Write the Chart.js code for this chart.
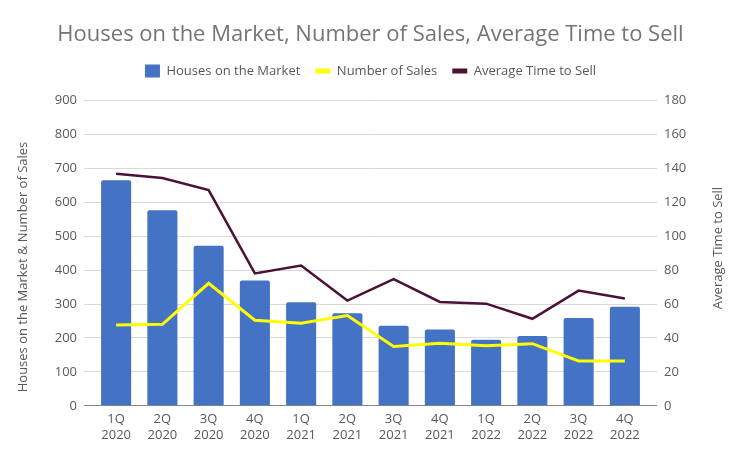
<!DOCTYPE html>
<html>
<head>
<meta charset="utf-8">
<script src="https://cdn.jsdelivr.net/npm/chart.js@4/dist/chart.umd.min.js"></script>
<style>
  html, body { margin: 0; padding: 0; background: #ffffff; }
  #wrap { width: 743px; height: 461px; position: relative; }
</style>
</head>
<body>
<div id="wrap"><canvas id="c"></canvas></div>
<script>
const categories = [['1Q','2020'],['2Q','2020'],['3Q','2020'],['4Q','2020'],['1Q','2021'],['2Q','2021'],['3Q','2021'],['4Q','2021'],['1Q','2022'],['2Q','2022'],['3Q','2022'],['4Q','2022']];
const housesOnMarket = [665, 576, 472, 369, 305, 273, 236, 225, 195, 206, 259, 292];
const numberOfSales  = [238, 240, 361, 252, 243, 266, 175, 184, 177, 183, 132, 132];
const avgTimeToSell  = [136.8, 134.2, 127.1, 78, 82.7, 62, 74.6, 61.2, 60.2, 51.3, 67.9, 63.2];
const leftTicks = [0, 100, 200, 300, 400, 500, 600, 700, 800, 900];
const rightTicks = [0, 20, 40, 60, 80, 100, 120, 140, 160, 180];

const FONT = '"Open Sans", "Noto Sans", sans-serif';
const TXT = '#595959';

const axisTitles = {
  id: 'axisTitles',
  beforeLayout(chart) {
    const lg = chart.legend;
    if (lg && !lg._patched) {
      const f = lg.fit.bind(lg);
      lg.fit = function () { f(); this.height += 13; };
      lg._patched = true;
    }
  },
  afterDraw(chart) {
    const ctx = chart.ctx;
    ctx.save();
    ctx.fillStyle = TXT;
    ctx.font = '13px ' + FONT;
    ctx.textAlign = 'center';
    ctx.textBaseline = 'middle';
    ctx.translate(23, 267);
    ctx.rotate(-Math.PI / 2);
    ctx.fillText('Houses on the Market & Number of Sales', 0, 0);
    ctx.restore();
    ctx.save();
    ctx.fillStyle = TXT;
    ctx.font = '13px ' + FONT;
    ctx.textAlign = 'center';
    ctx.textBaseline = 'middle';
    ctx.translate(718, 248);
    ctx.rotate(-Math.PI / 2);
    ctx.fillText('Average Time to Sell', 0, 0);
    ctx.restore();
  }
};

const gridColor = (c) => (c.tick && c.tick.value === 0) ? '#868686' : '#d9d9d9';

new Chart(document.getElementById('c'), {
  data: {
    labels: categories,
    datasets: [
      { type: 'bar', label: 'Houses on the Market', data: housesOnMarket, backgroundColor: '#4472C4', borderRadius: 2, borderSkipped: 'bottom', yAxisID: 'y', order: 3, barPercentage: 0.65, categoryPercentage: 1 },
      { type: 'line', label: 'Number of Sales', data: numberOfSales, borderColor: '#FFFF00', backgroundColor: '#FFFF00', borderWidth: 3, pointRadius: 0, tension: 0, yAxisID: 'y', order: 1 },
      { type: 'line', label: 'Average Time to Sell', data: avgTimeToSell, borderColor: '#4B1236', backgroundColor: '#4B1236', borderWidth: 2.5, pointRadius: 0, tension: 0, yAxisID: 'y1', order: 2 }
    ]
  },
  options: {
    responsive: true,
    maintainAspectRatio: false,
    animation: false,
    layout: { padding: { left: 15, right: 17, top: 0, bottom: 12 } },
    plugins: {
      title: {
        display: true,
        text: 'Houses on the Market, Number of Sales, Average Time to Sell',
        color: '#757575',
        font: { family: FONT, size: 22, weight: 'normal' },
        padding: { top: 22, bottom: 1 }
      },
      legend: {
        display: true,
        position: 'top',
        labels: {
          color: TXT,
          font: { family: FONT, size: 13 },
          usePointStyle: true,
          pointStyleWidth: 15,
          boxHeight: 14,
          padding: 15,
          generateLabels(chart) {
            return chart.data.datasets.map((ds, i) => ({
              text: ds.label,
              fillStyle: ds.type === 'bar' ? ds.backgroundColor : ds.borderColor,
              strokeStyle: ds.type === 'bar' ? ds.backgroundColor : ds.borderColor,
              lineWidth: ds.type === 'bar' ? 0 : 5,
              pointStyle: ds.type === 'bar' ? 'rect' : 'line',
              fontColor: TXT,
              hidden: false,
              datasetIndex: i
            }));
          }
        }
      },
      tooltip: { enabled: false }
    },
    scales: {
      x: {
        grid: { display: false, drawTicks: false },
        border: { display: false },
        ticks: { color: TXT, font: { family: FONT, size: 13 }, padding: 6, maxRotation: 0, autoSkip: false }
      },
      y: {
        position: 'left',
        min: 0, max: 900,
        afterBuildTicks(s) { s.ticks = leftTicks.map(v => ({ value: v })); },
        afterFit(s) { s.width = 78; },
        grid: { color: gridColor, tickColor: gridColor, tickLength: 9, lineWidth: 1 },
        border: { display: false },
        ticks: { color: TXT, font: { family: FONT, size: 13 }, padding: 7 }
      },
      y1: {
        position: 'right',
        min: 0, max: 180,
        afterBuildTicks(s) { s.ticks = rightTicks.map(v => ({ value: v })); },
        afterFit(s) { s.width = 78; },
        grid: { drawOnChartArea: false, color: gridColor, tickColor: gridColor, tickLength: 9 },
        border: { display: false },
        ticks: { color: TXT, font: { family: FONT, size: 13 }, padding: 7 }
      }
    }
  },
  plugins: [axisTitles]
});
</script>
</body>
</html>
